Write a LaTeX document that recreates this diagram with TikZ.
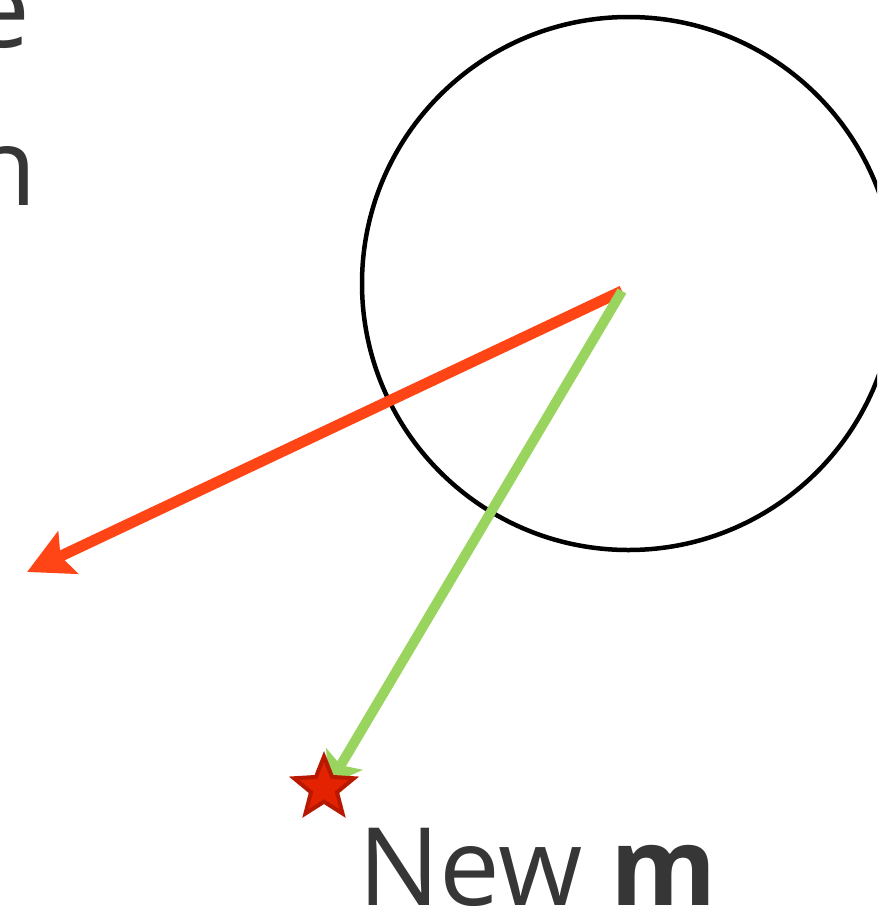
\documentclass[tikz,border=0pt]{standalone}
\usepackage{fontspec}
\setmainfont{Open Sans}
\usepackage{xcolor}
\usetikzlibrary{shapes.geometric, arrows.meta, positioning}
\definecolor{TextGray}{RGB}{54,54,54}
\definecolor{StepRed}{RGB}{255,69,22}
\definecolor{StepGreen}{RGB}{153,212,95}
\definecolor{StarFill}{RGB}{226,34,0}
\definecolor{StarEdge}{RGB}{184,24,0}

\begin{document}
\begin{tikzpicture}[x=0.025cm, y=-0.025cm,
    bigtext/.style={font=\fontsize{77}{92}\selectfont, text=TextGray, inner sep=0pt},
    redstep/.style={StepRed, line width=11*0.025cm,
      -{Stealth[length=45*0.025cm, width=46*0.025cm, inset=8*0.025cm]}},
    greenstep/.style={StepGreen, line width=10*0.025cm,
      -{Stealth[length=30*0.025cm, width=42*0.025cm, inset=7*0.025cm]}},
    target/.style={star, star points=5, star point ratio=2.3, fill=StarFill, draw=StarEdge,
                   line width=4*0.025cm, minimum size=63*0.025cm, inner sep=0pt}]
  \useasboundingbox (0,0) rectangle (877,916);
  \clip (0,0) rectangle (877,916);

  % cut-off text at the left
  \node[bigtext, anchor=base east] (lineA) at (31,47) {e};
  \node[bigtext, anchor=base east] (lineB) at (37,205) {n};

  % circle
  \draw[black, line width=4.5*0.025cm] (628.5,283.5) circle (266.5);

  % step vectors
  \coordinate (ctr) at (622,291);
  \coordinate (redtip) at (27,572);
  \coordinate (greentip) at (329,785);
  \draw[redstep] (ctr) -- (redtip);
  \draw[greenstep] (ctr) -- (greentip);
  \node[target] (newm) at (324,788) {};

  % label
  \node[bigtext, anchor=base west] (lbl) at (358,905) {New \textbf{m}};
\end{tikzpicture}
\end{document}
